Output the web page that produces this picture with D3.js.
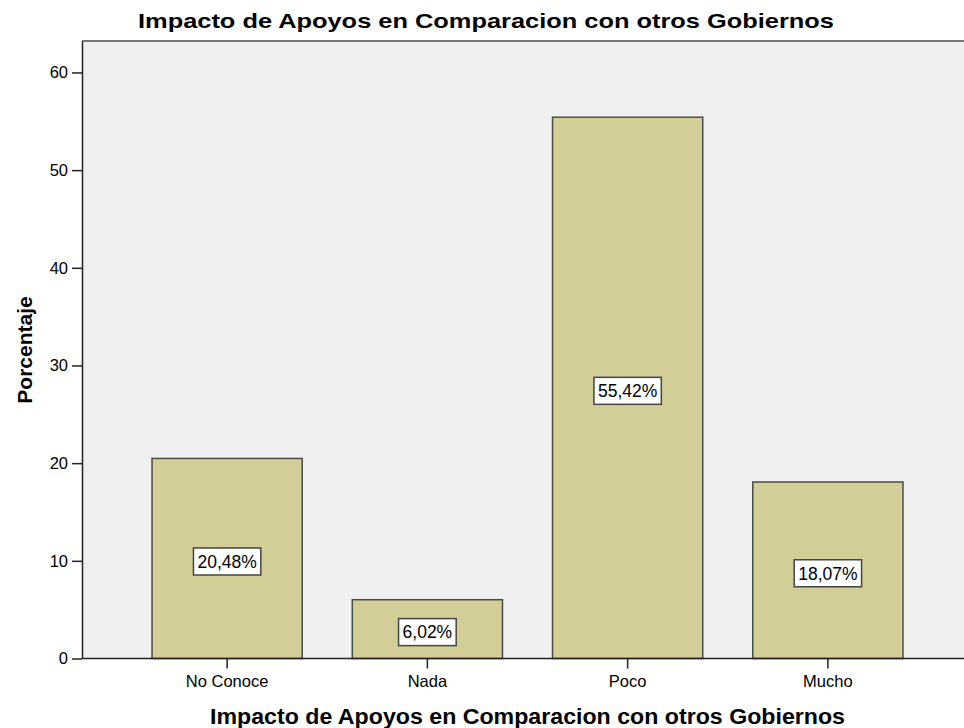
<!DOCTYPE html>
<html>
<head>
<meta charset="utf-8">
<script src="https://cdn.jsdelivr.net/npm/d3@7"></script>
<style>
  body { margin: 0; background: #fff; }
  text { font-family: "Liberation Sans", Arial, sans-serif; fill: #000; }
</style>
</head>
<body>
<div id="chart"></div>
<script>
// values
var categories = ["No Conoce", "Nada", "Poco", "Mucho"];
var percentages = [20.48, 6.02, 55.42, 18.07];
var yTicks = [0, 10, 20, 30, 40, 50, 60];
var titleText = "Impacto de Apoyos en Comparacion con otros Gobiernos";

var width = 964, height = 728;
var plot = {left: 82, top: 41, right: 964, bottom: 658.5};

var svg = d3.select("#chart").append("svg")
	.attr("width", width)
	.attr("height", height);

var x = d3.scaleBand()
	.domain(categories)
	.range([127, 928])
	.paddingInner(0.25)
	.paddingOuter(0.125);

var y = d3.scaleLinear()
	.domain([0, 63.22])
	.range([plot.bottom, plot.top]);

// plot background
svg.append("rect")
	.attr("x", plot.left)
	.attr("y", plot.top)
	.attr("width", plot.right - plot.left)
	.attr("height", plot.bottom - plot.top)
	.attr("fill", "#f0f0f0");

// bars
svg.append("g").selectAll("rect")
	.data(percentages)
	.enter().append("rect")
	.attr("x", function(d, i) { return x(categories[i]); })
	.attr("y", function(d) { return y(d); })
	.attr("width", x.bandwidth())
	.attr("height", function(d) { return y(0) - y(d); })
	.attr("fill", "#d3ce97")
	.attr("stroke", "#4b4b45")
	.attr("stroke-width", 1.5);

// top border
svg.append("line")
	.attr("x1", plot.left).attr("x2", plot.right)
	.attr("y1", plot.top).attr("y2", plot.top)
	.attr("stroke", "#777").attr("stroke-width", 2);

// axes
var yAxis = svg.append("g")
	.attr("transform", "translate(" + plot.left + ",0)")
	.call(d3.axisLeft(y).tickValues(yTicks).tickSize(10).tickSizeOuter(0));

var xAxis = svg.append("g")
	.attr("transform", "translate(0," + plot.bottom + ")")
	.call(d3.axisBottom(x).tickSize(10).tickSizeOuter(0));

[yAxis, xAxis].forEach(function(a) {
	a.select(".domain").attr("stroke", "#222").attr("stroke-width", 1.5);
	a.selectAll(".tick line").attr("stroke", "#222").attr("stroke-width", 1.5);
	a.selectAll("text")
		.style("font-family", "'Liberation Sans', Arial, sans-serif")
		.style("font-size", "16.5px")
		.attr("fill", "#222");
});
xAxis.select(".domain").attr("d", "M" + plot.left + ",0H" + plot.right);
yAxis.selectAll(".tick text").attr("x", -14);
xAxis.selectAll(".tick text").attr("y", 0).attr("dy", "28px");

// value labels
var labels = svg.append("g").selectAll("g")
	.data(percentages)
	.enter().append("g")
	.attr("transform", function(d, i) {
		return "translate(" + (x(categories[i]) + x.bandwidth() / 2) + "," + (y(d / 2) + 3) + ")";
	});

var boxes = labels.append("rect")
	.attr("fill", "#fff")
	.attr("stroke", "#444")
	.attr("stroke-width", 1.5);

var valueTexts = labels.append("text")
	.attr("text-anchor", "middle")
	.attr("dy", "0.36em")
	.style("font-size", "17.5px")
	.text(function(d) { return d.toFixed(2).replace(".", ",") + "%"; });

valueTexts.each(function(d, i) {
	var w = this.getComputedTextLength() + 8;
	d3.select(boxes.nodes()[i])
		.attr("x", -w / 2).attr("y", -13.5)
		.attr("width", w).attr("height", 27);
});

// titles
svg.append("text")
	.attr("x", 138).attr("y", 28)
	.attr("textLength", 696)
	.attr("lengthAdjust", "spacingAndGlyphs")
	.style("font-size", "21px")
	.style("font-weight", "bold")
	.text(titleText);

svg.append("text")
	.attr("x", 210).attr("y", 724)
	.attr("textLength", 635)
	.attr("lengthAdjust", "spacingAndGlyphs")
	.style("font-size", "22px")
	.style("font-weight", "bold")
	.text(titleText);

svg.append("text")
	.attr("transform", "translate(32,350) rotate(-90)")
	.attr("text-anchor", "middle")
	.style("font-size", "21px")
	.style("font-weight", "bold")
	.text("Porcentaje");
</script>
</body>
</html>
